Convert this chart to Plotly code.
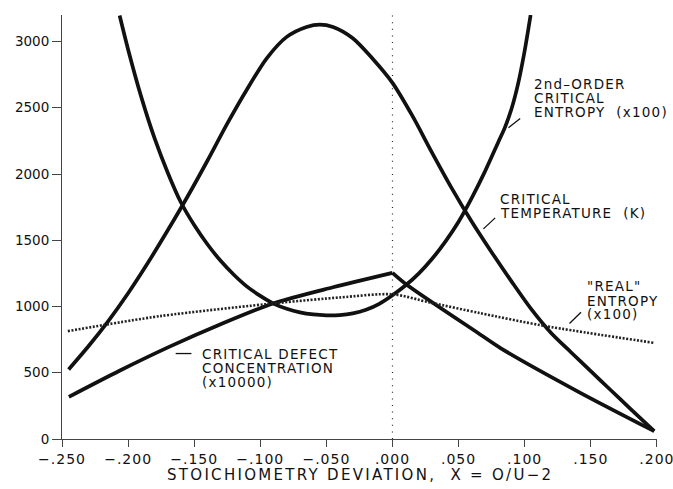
import plotly.graph_objects as go

# ---------------- data ----------------
temp_x = [-0.245, -0.23, -0.215, -0.2, -0.185, -0.17, -0.155, -0.14, -0.125, -0.11,
          -0.095, -0.08, -0.065, -0.055, -0.045, -0.03, -0.015, 0.0, 0.015, 0.03,
          0.045, 0.06, 0.075, 0.09, 0.105, 0.12, 0.135, 0.15, 0.165, 0.18, 0.198]
temp_y = [525, 700, 890, 1100, 1330, 1575, 1830, 2100, 2380, 2640,
          2875, 3035, 3110, 3128, 3110, 3025, 2870, 2688, 2440, 2160,
          1890, 1640, 1410, 1190, 980, 800, 655, 512, 370, 228, 59]

entropy2_x = [-0.2064, -0.2, -0.19, -0.18, -0.17, -0.16, -0.15, -0.14, -0.13, -0.12,
              -0.11, -0.10, -0.09, -0.08, -0.07, -0.06, -0.05, -0.04, -0.03, -0.02,
              -0.01, 0.0, 0.01, 0.02, 0.03, 0.04, 0.05, 0.06, 0.07, 0.08,
              0.085, 0.09, 0.095, 0.1, 0.1045]
entropy2_y = [3196, 2940, 2580, 2270, 2010, 1785, 1615, 1470, 1345, 1240,
              1150, 1080, 1022, 983, 956, 940, 933, 935, 948, 975,
              1020, 1085, 1160, 1250, 1360, 1490, 1640, 1820, 2020, 2240,
              2350, 2490, 2680, 2930, 3200]

defect_x = [-0.2448, -0.2065, -0.1686, -0.13, -0.0903, -0.045, 0.0,
            0.0108, 0.0663, 0.0814, 0.14, 0.198]
defect_y = [318, 515, 697, 866, 1023, 1145, 1254,
            1164, 789, 688, 360, 59]

real_x = [-0.2456, -0.1761, -0.0852, -0.04, 0.0, 0.0284, 0.0663, 0.1142, 0.1976]
real_y = [814, 927, 1028, 1068, 1092, 1030, 950, 855, 726]

x_ticks = [-0.25, -0.2, -0.15, -0.1, -0.05, 0.0, 0.05, 0.1, 0.15, 0.2]
x_labels = ["\u2212.250", "\u2212.200", "\u2212.150", "\u2212.100", "\u2212.050",
            ".000", ".050", ".100", ".150", ".200"]
y_ticks = [0, 500, 1000, 1500, 2000, 2500, 3000]

FONT = "DejaVu Sans"
INK = "#111111"


def spaced(t, ls):
    return '<span style="letter-spacing:%spx">%s</span>' % (ls, t)


fig = go.Figure()

solid = dict(color=INK, width=3.7, shape="spline", smoothing=0.8)

fig.add_trace(go.Scatter(x=temp_x, y=temp_y, mode="lines", line=solid, hoverinfo="skip"))
fig.add_trace(go.Scatter(x=entropy2_x, y=entropy2_y, mode="lines", line=solid, hoverinfo="skip"))

peak = defect_y.index(max(defect_y))
fig.add_trace(go.Scatter(x=defect_x[:peak + 1], y=defect_y[:peak + 1], mode="lines",
                         line=solid, hoverinfo="skip"))
fig.add_trace(go.Scatter(x=defect_x[peak:], y=defect_y[peak:], mode="lines",
                         line=solid, hoverinfo="skip"))

fig.add_trace(go.Scatter(x=real_x, y=real_y, mode="lines",
                         line=dict(color="#222222", width=2.6, dash="2px,1.6px",
                                   shape="spline", smoothing=0.8),
                         hoverinfo="skip"))

# vertical dotted reference line at x = 0
fig.add_shape(type="line", xref="x", yref="y", x0=0, x1=0, y0=0, y1=3200,
              line=dict(color="#222222", width=1.2, dash="1px,5.6px"), layer="below")

# label texts (line by line) : (x, y, text)
labels = [
    (0.1064, 2681, "2nd\u2013ORDER"),
    (0.1064, 2575, "CRITICAL"),
    (0.1064, 2469, "ENTROPY  (x100)"),
    (0.0809, 1813, "CRITICAL"),
    (0.0809, 1707, "TEMPERATURE  (K)"),
    (0.1462, 1158, "\"REAL\""),
    (0.1462, 1045, "ENTROPY"),
    (0.1462, 940, "(x100)"),
    (-0.1445, 645, "CRITICAL DEFECT"),
    (-0.1445, 537, "CONCENTRATION"),
    (-0.1445, 432, "(x10000)"),
]
for lx, ly, lt in labels:
    fig.add_annotation(x=lx, y=ly, xref="x", yref="y", text=spaced(lt, 1.2),
                       showarrow=False, xanchor="left", yanchor="middle",
                       font=dict(family=FONT, size=13.5, color=INK), borderpad=0)

# leader lines
leaders = [
    (0.0877, 2349, 0.0966, 2419),
    (0.0688, 1586, 0.0777, 1669),
    (0.1339, 872, 0.1426, 957),
    (-0.1640, 645, -0.1521, 645),
]
for x0, y0, x1, y1 in leaders:
    fig.add_shape(type="line", xref="x", yref="y", x0=x0, y0=y0, x1=x1, y1=y1,
                  line=dict(color=INK, width=1.3))

# x-axis title
fig.add_annotation(x=0.5, y=-0.086, xref="paper", yref="paper",
                   text=spaced("STOICHIOMETRY DEVIATION,  X = O/U\u22122", 2.3),
                   showarrow=False, xanchor="center", yanchor="middle",
                   font=dict(family=FONT, size=15, color=INK))

fig.update_layout(
    width=673, height=489,
    margin=dict(l=62, r=16, t=15, b=50, autoexpand=False),
    paper_bgcolor="white", plot_bgcolor="white",
    showlegend=False,
    xaxis=dict(range=[-0.25, 0.2001], showline=True, linecolor="#444444", linewidth=1,
               ticks="outside", ticklen=7, tickcolor="#444444", tickwidth=1,
               tickvals=x_ticks, ticktext=[spaced(t, 1) for t in x_labels],
               tickfont=dict(family=FONT, size=14, color=INK),
               ticklabeloverflow="allow", automargin=False,
               showgrid=False, zeroline=False),
    yaxis=dict(range=[0, 3200], showline=True, linecolor="#444444", linewidth=1,
               ticks="outside", ticklen=9, tickcolor="#444444", tickwidth=1,
               tickvals=y_ticks, ticktext=[str(v) for v in y_ticks],
               tickfont=dict(family=FONT, size=13.5, color=INK),
               automargin=False,
               showgrid=False, zeroline=False),
)

fig.write_html("out.html")
